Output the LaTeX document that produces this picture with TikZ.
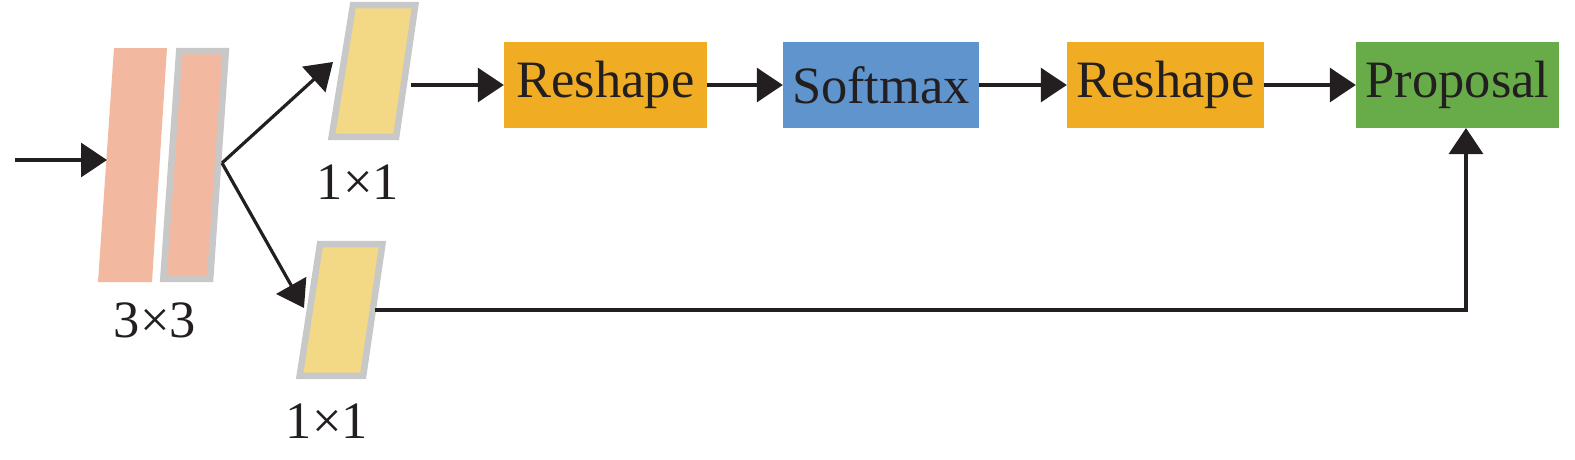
\documentclass[tikz,border=0pt]{standalone}
\usepackage{fontspec}
\setmainfont{Liberation Serif}
\usetikzlibrary{arrows.meta}
\definecolor{pinkc}{HTML}{F2B8A0}
\definecolor{yellowc}{HTML}{F3D985}
\definecolor{grayb}{HTML}{C8C8C8}
\definecolor{orangec}{HTML}{F0AD24}
\definecolor{bluec}{HTML}{6094CC}
\definecolor{greenc}{HTML}{68AC4A}
\definecolor{inkc}{HTML}{231F20}
\tikzset{
  conn/.style={draw=inkc, line width=3.2pt, -{Triangle[length=26pt,width=34pt]}},
  box/.style={inner sep=0pt, minimum height=86pt, text=inkc, font=\fontsize{52.5}{60}\selectfont},
  lbl/.style={inner sep=0pt, text=inkc, font=\fontsize{52.5}{60}\selectfont},
  layer/.style={fill=yellowc, draw=grayb, line width=6.5pt, line join=miter},
}
\begin{document}
\begin{tikzpicture}[x=1pt,y=-1pt]
\useasboundingbox (0,0) rectangle (1575,459);
% 3x3 conv layers
\fill[pinkc] (114,48) -- (167,48) -- (152,282) -- (98,282) -- cycle;
\filldraw[fill=pinkc, draw=grayb, line width=6.5pt] (179.2,51.2) -- (225.8,51.2) -- (210.2,278.8) -- (163.3,278.8) -- cycle;
% 1x1 layers
\filldraw[layer] (353,5.2) -- (415.3,5.2) -- (396.2,136.8) -- (331.7,136.8) -- cycle;
\filldraw[layer] (320,244.2) -- (382.4,244.2) -- (363.2,375.8) -- (299.7,375.8) -- cycle;
% labels
\node[lbl] (l33) at (155,320) {3×3};
\node[lbl] (l11a) at (358,182) {1×1};
\node[lbl] (l11b) at (327,421) {1×1};
% boxes
\node[box, fill=orangec, minimum width=203pt] (r1) at (605.5,85) {Reshape};
\node[box, fill=bluec, minimum width=196pt] (sm) at (881,85) {Softmax};
\node[box, fill=orangec, minimum width=197pt] (r2) at (1165.5,85) {Reshape};
\node[box, fill=greenc, minimum width=203pt] (pr) at (1457.5,85) {Proposal};
% coordinates
\coordinate (in) at (15,160);
\coordinate (inTip) at (107,160);
\coordinate (br) at (222,163);
\coordinate (upTip) at (333,62);
\coordinate (dnTip) at (304,308);
\coordinate (upOut) at (411,85);
\coordinate (dnOut) at (375,310);
\coordinate (corner) at (1466,310);
\coordinate (prBot) at (1466,128);
% connectors
\draw[conn] (in) -- (inTip);
\draw[conn] (br) -- (upTip);
\draw[conn] (br) -- (dnTip);
\draw[conn] (upOut) -- (r1.west);
\draw[conn] (r1) -- (sm);
\draw[conn] (sm) -- (r2);
\draw[conn] (r2) -- (pr);
\draw[conn] (dnOut) -- (corner) -- (prBot);
\end{tikzpicture}
\end{document}
